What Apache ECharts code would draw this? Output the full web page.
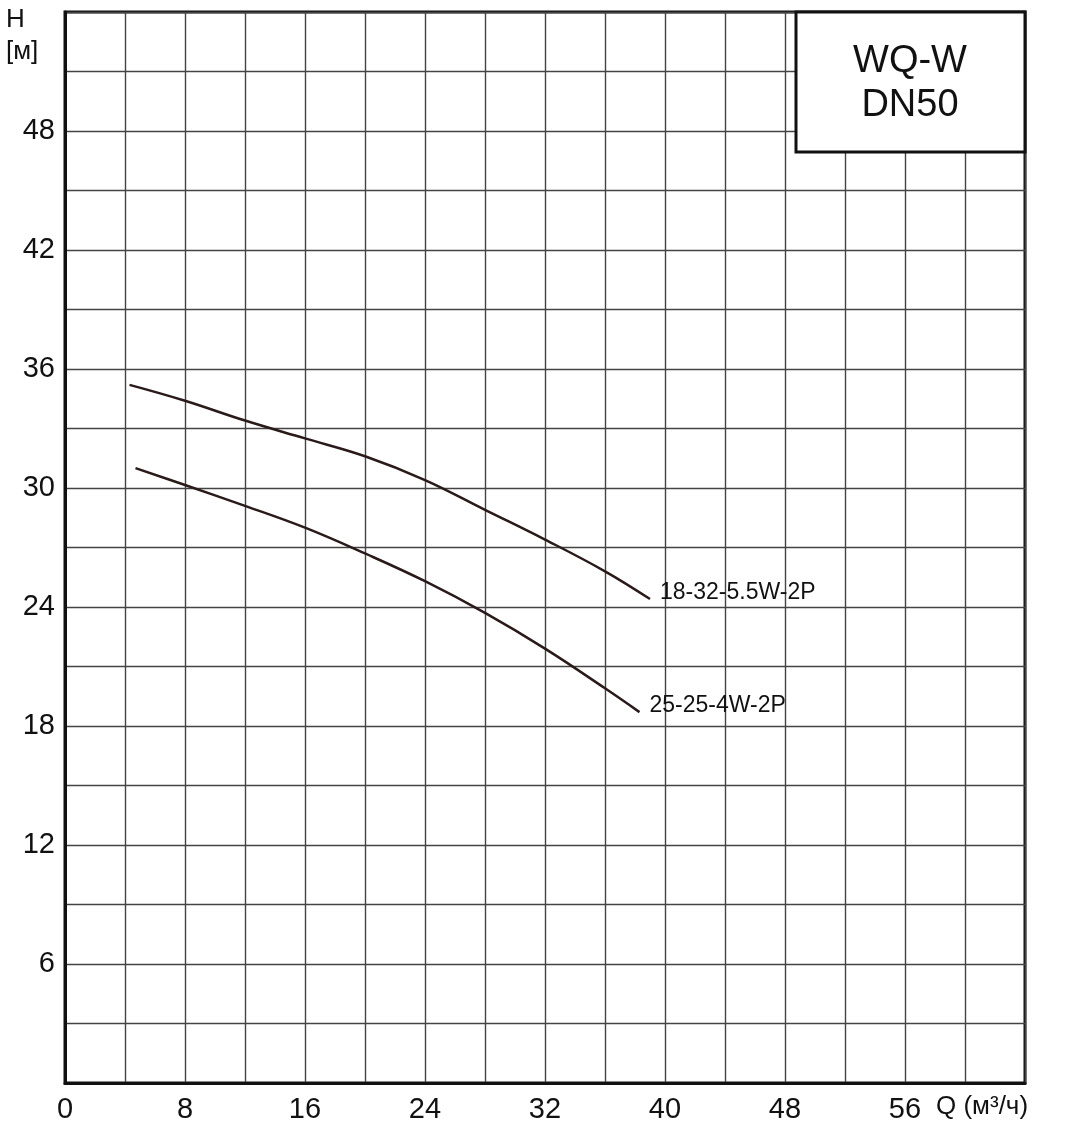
<!DOCTYPE html><html><head><meta charset="utf-8"><script src="https://cdn.jsdelivr.net/npm/echarts@6/dist/echarts.min.js"></script></head><body style="margin:0"><div id="c" style="width:1083px;height:1143px"></div><script>
const curveA = [[4.3,35.2],[8,34.4],[12,33.4],[16,32.5],[20,31.6],[24,30.4],[28,28.9],[32,27.4],[36,25.8],[39,24.4]];
const curveB = [[4.7,31.0],[8,30.15],[12,29.1],[16,28.0],[20,26.7],[24,25.3],[28,23.7],[32,21.9],[36,19.9],[38.3,18.7]];
const nameA = '18-32-5.5W-2P', nameB = '25-25-4W-2P';
const chart = echarts.init(document.getElementById('c'));
const F = 'Liberation Sans, Arial, sans-serif';
chart.setOption({
 animation:false, backgroundColor:'#fff',
 grid:{left:65,right:58,top:12,bottom:60,show:true,borderColor:'#111',borderWidth:3},
 xAxis:{type:'value',min:0,max:64,interval:4,
  axisLine:{lineStyle:{color:'#111',width:3}},axisTick:{show:false},
  splitLine:{lineStyle:{color:'#444',width:1.4}},
  axisLabel:{color:'#111',fontSize:29,fontFamily:F,margin:12,formatter:v=>(v%8===0&&v<64)?v:''}},
 yAxis:{type:'value',min:0,max:54,interval:3,
  axisLine:{lineStyle:{color:'#111',width:3}},axisTick:{show:false},
  splitLine:{lineStyle:{color:'#444',width:1.4}},
  axisLabel:{color:'#111',fontSize:29,fontFamily:F,margin:10,formatter:v=>(v%6===0&&v>0&&v<54)?v:''}},
 graphic:[
  {type:'text',left:6,top:4,z:100,style:{text:'H\n[м]',font:'26px '+F,fill:'#111',lineHeight:32}},
  {type:'text',left:936,top:1094,z:100,style:{text:'Q (м³/ч)',font:'26px '+F,fill:'#111'}},
  {type:'rect',z:100,shape:{x:796,y:12,width:229,height:140},style:{fill:'#fff',stroke:'#111',lineWidth:3}},
  {type:'text',z:101,x:910,y:84,style:{text:'WQ-W\nDN50',font:'38px '+F,fill:'#111',align:'center',verticalAlign:'middle',lineHeight:44}}
 ],
 series:[
  {type:'line',data:curveA,smooth:0.4,symbol:'none',lineStyle:{color:'#2a1a1a',width:2.5},
   endLabel:{show:true,formatter:nameA,color:'#111',fontSize:23,fontFamily:F,offset:[2,-6]}},
  {type:'line',data:curveB,smooth:0.4,symbol:'none',lineStyle:{color:'#2a1a1a',width:2.5},
   endLabel:{show:true,formatter:nameB,color:'#111',fontSize:23,fontFamily:F,offset:[2,-6]}}
 ]
});
</script></body></html>
